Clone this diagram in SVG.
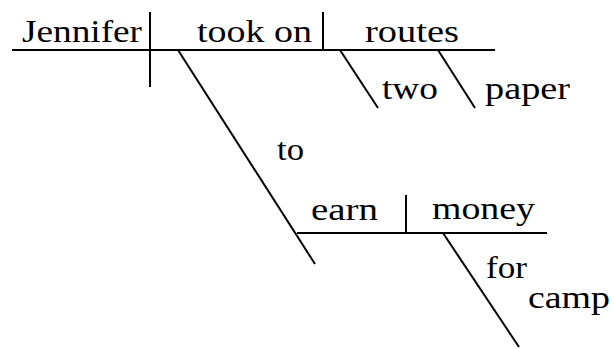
<svg xmlns="http://www.w3.org/2000/svg" width="614" height="349" viewBox="0 0 614 349">
<style>
.l{stroke:#000;stroke-width:2;fill:none;stroke-linecap:butt}
text{font-family:'Liberation Serif','DejaVu Serif','Times New Roman',serif;font-size:31px;fill:#000}
</style>
<rect width="614" height="349" fill="#fff"/>
<g id="connectors">
<line class="l" x1="12" y1="50" x2="495" y2="50"/>
<line class="l" x1="150" y1="12" x2="150" y2="87"/>
<line class="l" x1="323" y1="12" x2="323" y2="50"/>
<line class="l" x1="340" y1="50" x2="378" y2="108"/>
<line class="l" x1="438" y1="50" x2="475" y2="108"/>
<line class="l" x1="178" y1="50" x2="315" y2="264"/>
<line class="l" x1="297" y1="233" x2="547" y2="233"/>
<line class="l" x1="406" y1="195" x2="406" y2="233"/>
<line class="l" x1="443" y1="233" x2="519" y2="347"/>
</g>
<g id="jennifer"><text x="22" y="42" textLength="120" lengthAdjust="spacingAndGlyphs">Jennifer</text></g>
<g id="tookon"><text x="197" y="42" textLength="115" lengthAdjust="spacingAndGlyphs">took on</text></g>
<g id="routes"><text x="365" y="42" textLength="94" lengthAdjust="spacingAndGlyphs">routes</text></g>
<g id="two"><text x="382" y="99" textLength="56" lengthAdjust="spacingAndGlyphs">two</text></g>
<g id="paper"><text x="485" y="99" textLength="85" lengthAdjust="spacingAndGlyphs">paper</text></g>
<g id="to"><text x="277" y="160" textLength="27" lengthAdjust="spacingAndGlyphs">to</text></g>
<g id="earn"><text x="311" y="220" textLength="67" lengthAdjust="spacingAndGlyphs">earn</text></g>
<g id="money"><text x="432" y="219" textLength="103" lengthAdjust="spacingAndGlyphs">money</text></g>
<g id="for"><text x="486" y="278" textLength="41" lengthAdjust="spacingAndGlyphs">for</text></g>
<g id="camp"><text x="528" y="308" textLength="82" lengthAdjust="spacingAndGlyphs">camp</text></g>
</svg>
